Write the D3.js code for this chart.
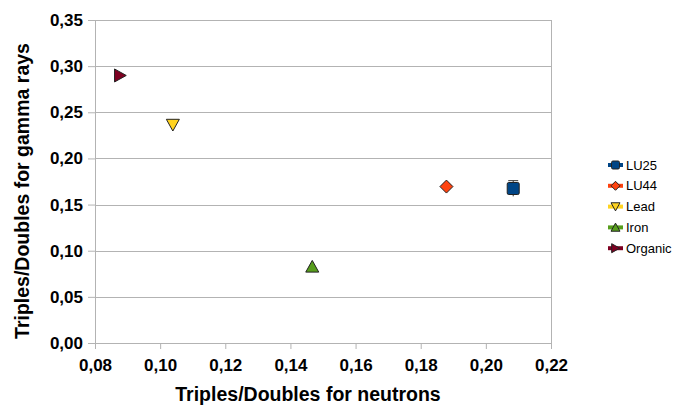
<!DOCTYPE html>
<html>
<head>
<meta charset="utf-8">
<script src="https://cdn.jsdelivr.net/npm/d3@7"></script>
<style>
  body { margin: 0; background: #fff; }
  text { font-family: "Liberation Sans", Arial, sans-serif; }
</style>
</head>
<body>
<div id="display"></div>
<script>
// values
const seriesNames = ['LU25', 'LU44', 'Lead', 'Iron', 'Organic'];
const xValues = [0.2084, 0.1879, 0.1039, 0.1467, 0.0877];
const yValues = [0.1674, 0.1695, 0.2364, 0.0828, 0.2899];
const yErrors = [0.0085, 0, 0, 0, 0];
const colors = ['#004586', '#ff420e', '#ffd320', '#579d1c', '#7e0021'];
const xTicks = [0.08, 0.10, 0.12, 0.14, 0.16, 0.18, 0.20, 0.22];
const yTicks = [0.00, 0.05, 0.10, 0.15, 0.20, 0.25, 0.30, 0.35];

const W = 673, H = 406;
const margin = {top: 20, right: 122, bottom: 63, left: 95};
const width = W - margin.left - margin.right;
const height = H - margin.top - margin.bottom;
const grey = '#b3b3b3';
const fmt = (d) => d.toFixed(2).replace('.', ',');

const svg = d3.select('#display').append('svg')
    .attr('width', W)
    .attr('height', H);

const g = svg.append('g')
    .attr('transform', 'translate(' + margin.left + ',' + margin.top + ')');

const x = d3.scaleLinear().domain([0.08, 0.22]).range([0, width]);
const y = d3.scaleLinear().domain([0, 0.35]).range([height, 0]);

// grid
g.append('g').selectAll('line')
    .data(yTicks).enter()
    .append('line')
    .attr('x1', 0).attr('x2', width)
    .attr('y1', (d) => Math.round(y(d)) + 0.5)
    .attr('y2', (d) => Math.round(y(d)) + 0.5)
    .attr('stroke', grey);

g.append('rect')
    .attr('x', 0.5).attr('y', 0.5)
    .attr('width', width).attr('height', height)
    .attr('fill', 'none').attr('stroke', grey);

const xAxis = g.append('g')
    .attr('transform', 'translate(0,' + height + ')')
    .call(d3.axisBottom(x).tickValues(xTicks).tickFormat(fmt)
        .tickSize(6).tickPadding(6));
const yAxis = g.append('g')
    .call(d3.axisLeft(y).tickValues(yTicks).tickFormat(fmt)
        .tickSize(7).tickPadding(5));

for (const ax of [xAxis, yAxis]) {
  ax.select('.domain').attr('stroke', grey);
  ax.selectAll('.tick line').attr('stroke', grey);
  ax.selectAll('.tick text')
      .attr('fill', '#000')
      .style('font-family', '"Liberation Sans", Arial, sans-serif')
      .style('font-size', '17px')
      .style('font-weight', 'bold');
}
xAxis.selectAll('.tick text').attr('dy', '0.95em');

// axis titles
svg.append('text')
    .attr('x', 308).attr('y', 401)
    .attr('text-anchor', 'middle')
    .style('font-size', '19.5px').style('font-weight', 'bold')
    .text('Triples/Doubles for neutrons');

svg.append('text')
    .attr('transform', 'translate(29,191) rotate(-90)')
    .attr('text-anchor', 'middle')
    .style('font-size', '19.5px').style('font-weight', 'bold')
    .text('Triples/Doubles for gamma rays');

// marker shapes
function markerPath(i, s) {
  const h = s / 2;
  switch (i) {
    case 0: return null; // square drawn as rect
    case 1: return `M0,${-h}L${h},0L0,${h}L${-h},0Z`;
    case 2: return `M${-h},${-h * 0.85}L${h},${-h * 0.85}L0,${h * 0.95}Z`;
    case 3: return `M${-h},${h * 0.85}L${h},${h * 0.85}L0,${-h * 0.95}Z`;
    case 4: return `M${-h * 0.85},${-h}L${h * 0.95},0L${-h * 0.85},${h}Z`;
  }
}

function drawMarker(sel, i, s) {
  if (i === 0) {
    sel.append('rect')
        .attr('x', -s / 2 + 0.5).attr('y', -s / 2 + 0.5)
        .attr('width', s - 1).attr('height', s - 1)
        .attr('rx', 1.5)
        .attr('fill', colors[i]).attr('stroke', '#222').attr('stroke-width', 1);
  } else {
    sel.append('path')
        .attr('d', markerPath(i, s))
        .attr('fill', colors[i]).attr('stroke', '#222').attr('stroke-width', 1);
  }
}

const data = seriesNames.map((name, i) => ({
  name: name, x: xValues[i], y: yValues[i], err: yErrors[i], i: i,
}));

// error bars
const err = g.append('g').selectAll('g')
    .data(data.filter((d) => d.err > 0)).enter()
    .append('g');
err.append('line')
    .attr('x1', (d) => x(d.x)).attr('x2', (d) => x(d.x))
    .attr('y1', (d) => y(d.y + d.err)).attr('y2', (d) => y(d.y - d.err))
    .attr('stroke', '#333');
err.append('line')
    .attr('x1', (d) => x(d.x) - 5).attr('x2', (d) => x(d.x) + 5)
    .attr('y1', (d) => y(d.y + d.err)).attr('y2', (d) => y(d.y + d.err))
    .attr('stroke', '#333');

// points
g.append('g').selectAll('g')
    .data(data).enter()
    .append('g')
    .attr('transform', (d) => 'translate(' + x(d.x) + ',' + y(d.y) + ')')
    .each(function(d) {
      drawMarker(d3.select(this), d.i, 13);
    });

// vertical line over the square (error bar through the marker)
err.append('line')
    .attr('x1', (d) => x(d.x)).attr('x2', (d) => x(d.x))
    .attr('y1', (d) => y(d.y) - 6).attr('y2', (d) => y(d.y) + 6)
    .attr('stroke', '#222');

// legend
const legend = svg.append('g')
    .attr('transform', 'translate(608,165)');
const items = legend.selectAll('g')
    .data(data).enter()
    .append('g')
    .attr('transform', (d, i) => 'translate(0,' + (i * 20.8) + ')');
items.append('line')
    .attr('x1', 0).attr('x2', 15)
    .attr('stroke', (d) => colors[d.i]).attr('stroke-width', 4);
items.each(function(d) {
  const m = d3.select(this).append('g').attr('transform', 'translate(7.5,0)');
  drawMarker(m, d.i, 9);
});
items.append('text')
    .attr('x', 18).attr('y', 0).attr('dy', '0.36em')
    .style('font-size', '13px')
    .text((d) => d.name);
</script>
</body>
</html>
